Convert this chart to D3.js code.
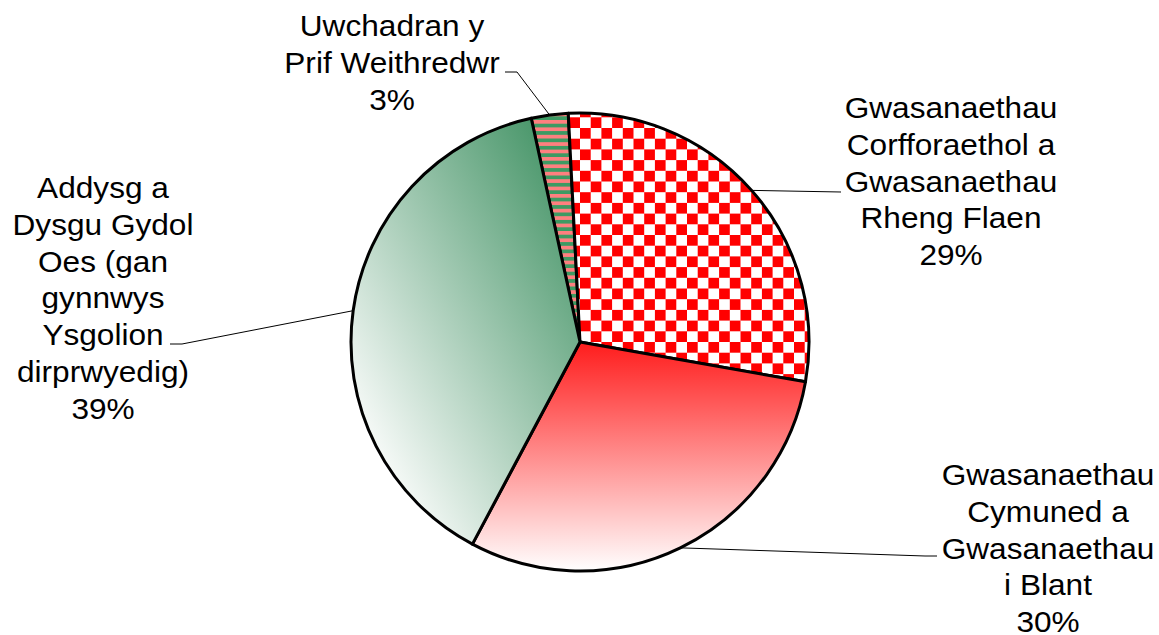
<!DOCTYPE html>
<html>
<head>
<meta charset="utf-8">
<script src="https://cdn.jsdelivr.net/npm/d3@7"></script>
<style>
  body { margin: 0; background: #fff; }
  svg { display: block; }
  text { font-family: "Liberation Sans", Arial, sans-serif; fill: #000; }
</style>
</head>
<body>
<div id="chart"></div>
<script>
// data (clockwise from the top)
var categories = ["uwchadran", "corfforaethol", "cymuned", "addysg"];
var values = [2.6, 28.6, 30.0, 38.8];
var labelLines = [
  ["Uwchadran y", "Prif Weithredwr"],
  ["Gwasanaethau", "Corfforaethol a", "Gwasanaethau", "Rheng Flaen"],
  ["Gwasanaethau", "Cymuned a", "Gwasanaethau", "i Blant"],
  ["Addysg a", "Dysgu Gydol", "Oes (gan", "gynnwys", "Ysgolion", "dirprwyedig)"]
];

// layout
var W = 1159, H = 635;
var cx = 580, cy = 342, radius = 229;
var startDeg = -12.3;
var fontSize = 29, lineH = 36.8, stretch = 1.09;
// label centre x, first baseline, leader elbow and end (page coords)
var labelPos = [
  {x: 392, y: 36, elbow: [517, 72], end: [505, 72]},
  {x: 951, y: 118, elbow: [841, 192], end: [841, 192]},
  {x: 1048, y: 485, elbow: [925, 556], end: [937, 556]},
  {x: 103, y: 198, elbow: [182, 344], end: [170, 344]}
];

var svg = d3.select("#chart").append("svg")
  .attr("width", W)
  .attr("height", H);

var defs = svg.append("defs");

// checkerboard red / white
var cell = 10.7;
var checker = defs.append("pattern")
  .attr("id", "fill-corfforaethol")
  .attr("patternUnits", "userSpaceOnUse")
  .attr("width", cell * 2).attr("height", cell * 2);
checker.append("rect").attr("width", cell * 2).attr("height", cell * 2).attr("fill", "#fff");
checker.append("rect").attr("width", cell).attr("height", cell).attr("fill", "#ff0000");
checker.append("rect").attr("x", cell).attr("y", cell).attr("width", cell).attr("height", cell).attr("fill", "#ff0000");

// horizontal stripes pink / green
var band = 3.7;
var stripes = defs.append("pattern")
  .attr("id", "fill-uwchadran")
  .attr("patternUnits", "userSpaceOnUse")
  .attr("width", 10).attr("height", band * 2);
stripes.append("rect").attr("width", 10).attr("height", band * 2).attr("fill", "#ff7f7f");
stripes.append("rect").attr("y", band).attr("width", 10).attr("height", band).attr("fill", "#3d9a63");

// red -> white, top to bottom
var redGrad = defs.append("linearGradient")
  .attr("id", "fill-cymuned")
  .attr("x1", 0).attr("y1", 0).attr("x2", 0).attr("y2", 1);
redGrad.append("stop").attr("offset", 0).attr("stop-color", "#ff1c1c");
redGrad.append("stop").attr("offset", 1).attr("stop-color", "#ffffff");

// white (bottom left) -> green (top right)
var greenGrad = defs.append("linearGradient")
  .attr("id", "fill-addysg")
  .attr("gradientUnits", "userSpaceOnUse")
  .attr("x1", -204).attr("y1", 112).attr("x2", 59).attr("y2", -32);
greenGrad.append("stop").attr("offset", 0).attr("stop-color", "#f7faf8");
greenGrad.append("stop").attr("offset", 1).attr("stop-color", "#4a976b");

var start = startDeg * Math.PI / 180;
var pie = d3.pie()
  .sort(null)
  .value(function(d) { return d; })
  .startAngle(start)
  .endAngle(start + 2 * Math.PI);

var arcs = pie(values);

var arc = d3.arc()
  .innerRadius(0)
  .outerRadius(radius);

var g = svg.append("g")
  .attr("transform", "translate(" + cx + "," + cy + ")");

g.selectAll("path.slice")
  .data(arcs)
  .enter()
  .append("path")
    .attr("class", "slice")
    .attr("d", arc)
    .attr("fill", function(d, i) { return "url(#fill-" + categories[i] + ")"; })
    .attr("stroke", "#000")
    .attr("stroke-width", 3)
    .attr("stroke-linejoin", "round");

// leader lines from the middle of each slice edge
svg.selectAll("polyline.leader")
  .data(arcs)
  .enter()
  .append("polyline")
    .attr("class", "leader")
    .attr("fill", "none")
    .attr("stroke", "#000")
    .attr("stroke-width", 1)
    .attr("points", function(d, i) {
      var a = (d.startAngle + d.endAngle) / 2;
      var p = [cx + radius * Math.sin(a), cy - radius * Math.cos(a)];
      var lp = labelPos[i];
      return [p, lp.elbow, lp.end].map(function(q) { return q.join(","); }).join(" ");
    });

// labels
var labels = svg.selectAll("g.label")
  .data(arcs)
  .enter()
  .append("g")
    .attr("class", "label")
    .attr("transform", function(d, i) {
      return "translate(" + labelPos[i].x + "," + labelPos[i].y + ") scale(" + stretch + ",1)";
    });

labels.each(function(d, i) {
  var lines = labelLines[i].concat([Math.round(d.data) + "%"]);
  d3.select(this).selectAll("text")
    .data(lines)
    .enter()
    .append("text")
      .attr("text-anchor", "middle")
      .attr("y", function(t, j) { return j * lineH; })
      .style("font-size", fontSize + "px")
      .text(function(t) { return t; });
});
</script>
</body>
</html>
